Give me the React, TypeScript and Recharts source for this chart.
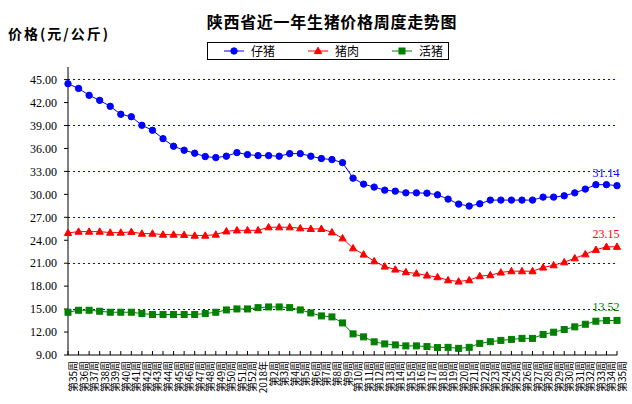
import React from 'react';
import { LineChart, Line, XAxis, YAxis, CartesianGrid, LabelList } from 'recharts';

const weeks = [
  '第35周', '第36周', '第37周', '第38周', '第39周', '第40周', '第41周', '第42周', '第43周',
  '第44周', '第45周', '第46周', '第47周', '第48周', '第49周', '第50周', '第51周', '第52周',
  '2018年', '第2周', '第3周', '第4周', '第5周', '第6周', '第7周', '第8周', '第9周',
  '第10周', '第11周', '第12周', '第13周', '第14周', '第15周', '第16周', '第17周', '第18周',
  '第19周', '第20周', '第21周', '第22周', '第23周', '第24周', '第25周', '第26周', '第27周',
  '第28周', '第29周', '第30周', '第31周', '第32周', '第33周', '第34周', '第35周',
];

// 仔猪
const piglet = [
  44.46, 43.85, 42.95, 42.29, 41.51, 40.47, 40.15, 39.03, 38.38, 37.28, 36.29, 35.77, 35.38,
  34.94, 34.81, 34.99, 35.46, 35.2, 35.07, 35.07, 34.99, 35.33, 35.33, 34.99, 34.68, 34.55,
  34.15, 32.12, 31.34, 30.95, 30.55, 30.42, 30.2, 30.2, 30.16, 29.94, 29.38, 28.73, 28.47,
  28.77, 29.25, 29.25, 29.25, 29.25, 29.25, 29.64, 29.64, 29.81, 30.2, 30.69, 31.27, 31.27, 31.14,
];

// 猪肉
const pork = [
  24.96, 25.13, 25.13, 25.13, 25.0, 25.0, 25.09, 24.87, 24.87, 24.74, 24.74, 24.7, 24.61,
  24.61, 24.74, 25.17, 25.3, 25.3, 25.3, 25.7, 25.7, 25.7, 25.57, 25.49, 25.49, 25.04,
  24.26, 22.96, 22.14, 21.26, 20.57, 20.18, 19.83, 19.66, 19.4, 19.18, 18.78, 18.61, 18.78,
  19.31, 19.44, 19.79, 19.96, 19.96, 19.96, 20.44, 20.74, 21.13, 21.65, 22.17, 22.75, 23.14, 23.15,
];

// 活猪
const hog = [
  14.59, 14.85, 14.85, 14.72, 14.59, 14.59, 14.59, 14.42, 14.29, 14.29, 14.29, 14.29, 14.29,
  14.42, 14.59, 14.89, 15.02, 15.02, 15.19, 15.28, 15.28, 15.19, 14.89, 14.5, 14.11, 13.98,
  13.19, 11.76, 11.37, 10.72, 10.45, 10.32, 10.19, 10.19, 10.1, 9.97, 10.0, 9.87, 10.0,
  10.52, 10.74, 10.91, 11.04, 11.17, 11.17, 11.69, 11.98, 12.33, 12.68, 13.02, 13.42, 13.51, 13.52,
];

const yTicks = [9, 12, 15, 18, 21, 24, 27, 30, 33, 36, 39, 42, 45];
const gridValues = [12, 15, 18, 21, 24, 27, 30, 33, 36, 39, 42, 45];

const series = [
  { key: 'piglet', name: '仔猪', color: '#0000FF', shape: 'circle' },
  { key: 'pork', name: '猪肉', color: '#FF0000', shape: 'triangle' },
  { key: 'hog', name: '活猪', color: '#008000', shape: 'square' },
];

const data = weeks.map((week, i) => ({
  week,
  piglet: piglet[i],
  pork: pork[i],
  hog: hog[i],
}));

const last = weeks.length - 1;
const cjk = '"Noto Sans CJK SC", "Noto Sans", sans-serif';
const serif = '"Liberation Serif", "DejaVu Serif", serif';

function marker(shape: string, color: string, cx: number, cy: number, key?: any) {
  if (shape === 'circle') {
    return <circle key={key} cx={cx} cy={cy} r={3.2} fill={color} stroke={color} />;
  }
  if (shape === 'triangle') {
    return (
      <polygon
        key={key}
        points={`${cx},${cy - 3.8} ${cx - 3.6},${cy + 2.6} ${cx + 3.6},${cy + 2.6}`}
        fill={color}
        stroke={color}
      />
    );
  }
  return <rect key={key} x={cx - 3} y={cy - 3} width={6} height={6} fill={color} stroke={color} />;
}

const makeDot = (shape: string, color: string) => (props: any) => {
  const { cx, cy, index } = props;
  if (cx == null || cy == null) return <g key={index} />;
  return marker(shape, color, cx, cy, index);
};

const makeEndLabel = (color: string) => (props: any) => {
  const { x, y, index, value } = props;
  if (index !== last) return null;
  return (
    <text x={x - 11} y={y - 9} textAnchor="middle" fontSize={12} fontFamily={serif} fill={color}>
      {Number(value).toFixed(2)}
    </text>
  );
};

function WeekTick(props: any) {
  const { x, y, payload } = props;
  return (
    <g transform={`translate(${x},${y})`}>
      <line x1={0} y1={0} x2={0} y2={-4} stroke="#000" />
      <text
        transform="rotate(-90)"
        x={-6}
        y={0}
        dy={9}
        textAnchor="end"
        fontSize={10}
        fontFamily={cjk}
        fill="#000"
      >
        {payload.value}
      </text>
    </g>
  );
}

function LegendBox() {
  const items = [
    { left: 224, textLeft: 251 },
    { left: 308, textLeft: 335 },
    { left: 392, textLeft: 419 },
  ];
  return (
    <div
      style={{
        position: 'absolute',
        left: 207,
        top: 42,
        width: 240,
        height: 16,
        border: '1px solid #000',
        background: '#fff',
      }}
    >
      {series.map((s, i) => (
        <React.Fragment key={s.key}>
          <svg
            width={20}
            height={16}
            style={{ position: 'absolute', left: items[i].left - 208, top: 0 }}
          >
            <line x1={0} y1={8} x2={20} y2={8} stroke={s.color} strokeWidth={1} />
            {marker(s.shape, s.color, 10, 8)}
          </svg>
          <div
            style={{
              position: 'absolute',
              left: items[i].textLeft - 208,
              top: 0,
              lineHeight: '16px',
              fontSize: 12,
              fontFamily: cjk,
              color: '#000',
            }}
          >
            {s.name}
          </div>
        </React.Fragment>
      ))}
    </div>
  );
}

export default function App() {
  return (
    <div style={{ position: 'absolute', left: 0, top: 0, width: 632, height: 404, background: '#fff' }}>
      <div
        style={{
          position: 'absolute',
          left: 0,
          width: 664,
          top: 10,
          textAlign: 'center',
          fontFamily: cjk,
          fontWeight: 'bold',
          fontSize: 16,
          letterSpacing: 0.7,
          lineHeight: '22px',
          color: '#000',
        }}
      >
        陕西省近一年生猪价格周度走势图
      </div>
      <div
        style={{
          position: 'absolute',
          left: 8,
          top: 23,
          fontFamily: cjk,
          fontWeight: 'bold',
          fontSize: 14,
          letterSpacing: 2,
          lineHeight: '20px',
          color: '#000',
        }}
      >
        价格(元/公斤)
      </div>
      <LegendBox />
      <LineChart
        width={632}
        height={404}
        data={data}
        margin={{ top: 67, right: 15, bottom: 0, left: 0 }}
      >
        <CartesianGrid
          vertical={false}
          horizontalValues={gridValues}
          stroke="#0000FF"
          strokeDasharray="2 3"
          shapeRendering="crispEdges"
        />
        <XAxis
          dataKey="week"
          interval={0}
          height={49}
          tickSize={0}
          tickMargin={0}
          tickLine={false}
          axisLine={{ stroke: '#000' }}
          tick={<WeekTick />}
          padding={{ left: 0, right: 0 }}
        />
        <YAxis
          width={68}
          domain={[9, 46.65]}
          ticks={yTicks}
          allowDataOverflow
          tickSize={4}
          tickMargin={7}
          axisLine={{ stroke: '#000' }}
          tickLine={{ stroke: '#000' }}
          tick={{ fontSize: 12, fontFamily: serif, fill: '#000' }}
          tickFormatter={(v: number) => v.toFixed(2)}
        />
        {series.map((s) => (
          <Line
            key={s.key}
            type="linear"
            dataKey={s.key}
            name={s.name}
            stroke={s.color}
            strokeWidth={1}
            dot={makeDot(s.shape, s.color)}
            activeDot={false}
            isAnimationActive={false}
          >
            <LabelList dataKey={s.key} content={makeEndLabel(s.color)} />
          </Line>
        ))}
      </LineChart>
    </div>
  );
}
